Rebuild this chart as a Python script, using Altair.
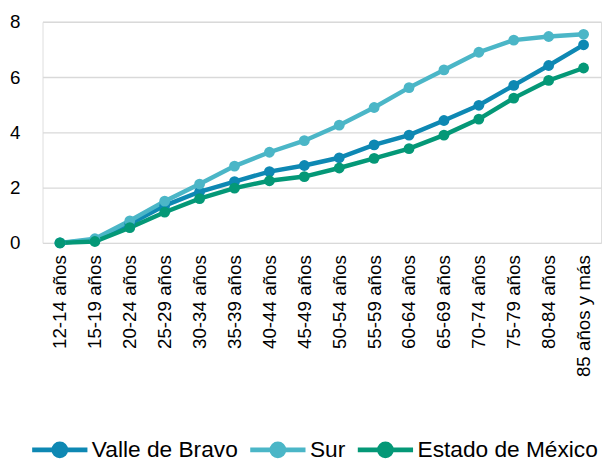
import altair as alt
import pandas as pd

categories = ["12-14 años", "15-19 años", "20-24 años", "25-29 años", "30-34 años",
              "35-39 años", "40-44 años", "45-49 años", "50-54 años", "55-59 años",
              "60-64 años", "65-69 años", "70-74 años", "75-79 años", "80-84 años",
              "85 años y más"]
valle_de_bravo = [0.0, 0.10, 0.68, 1.35, 1.85, 2.22, 2.58, 2.80, 3.08, 3.55, 3.90,
                  4.43, 4.98, 5.70, 6.42, 7.17]
sur = [0.0, 0.15, 0.80, 1.51, 2.13, 2.78, 3.28, 3.70, 4.26, 4.90, 5.62, 6.26,
       6.90, 7.34, 7.47, 7.55]
estado_de_mexico = [0.0, 0.05, 0.55, 1.11, 1.60, 1.98, 2.25, 2.40, 2.71, 3.06,
                    3.41, 3.90, 4.48, 5.24, 5.88, 6.33]
series_names = ["Valle de Bravo", "Sur", "Estado de México"]
series_colors = ["#0E88B3", "#4BB6C7", "#049877"]

rows = []
for name, vals in zip(series_names, [valle_de_bravo, sur, estado_de_mexico]):
    for c, v in zip(categories, vals):
        rows.append({"grupo": c, "serie": name, "valor": v})
df = pd.DataFrame(rows)

FONT = "Liberation Sans"

legend_path = ("M-2.8,0L2.8,0M-0.6,0A0.6,0.6,0,1,1,0.6,0"
               "A0.6,0.6,0,1,1,-0.6,0Z")

color = alt.Color(
    "serie:N",
    scale=alt.Scale(domain=series_names, range=series_colors),
    sort=series_names,
    legend=alt.Legend(
        title=None, orient="none", direction="horizontal",
        legendX=5, legendY=421,
        symbolType=legend_path, symbolSize=400, symbolStrokeWidth=5,
        labelFont=FONT, labelFontSize=23, labelColor="#000000",
        labelOffset=20, columnPadding=2, symbolOffset=0, labelLimit=400,
        padding=0,
    ),
)

x = alt.X("grupo:N", sort=categories, title=None,
          scale=alt.Scale(paddingInner=0, paddingOuter=0),
          axis=alt.Axis(labelAngle=-90, labelFont=FONT, labelFontSize=19,
                        labelColor="#000000", domain=False, ticks=False,
                        labelPadding=12, labelAlign="right", labelBaseline="middle",
                        labelOverlap=False))
y = alt.Y("valor:Q", title=None,
          scale=alt.Scale(domain=[0, 8], nice=False),
          axis=alt.Axis(values=[0, 2, 4, 6, 8], labelFont=FONT, labelFontSize=19,
                        labelColor="#000000", domain=False, ticks=False,
                        labelPadding=23, grid=True, gridColor="#D9D9D9",
                        gridWidth=1.5))

base = alt.Chart(df)
lines = base.mark_line(strokeWidth=4.5).encode(x=x, y=y, color=color)
points = base.mark_point(filled=True, size=120, opacity=1).encode(x=x, y=y, color=color)

chart = (lines + points).properties(
    width=566, height=224,
    autosize=alt.AutoSizeParams(type="none"),
    padding={"left": 35, "top": 11, "right": 2, "bottom": 218},
).configure_view(stroke=None).configure(background="white")

chart.save("out.html", embed_options={"renderer": "svg", "actions": False})
